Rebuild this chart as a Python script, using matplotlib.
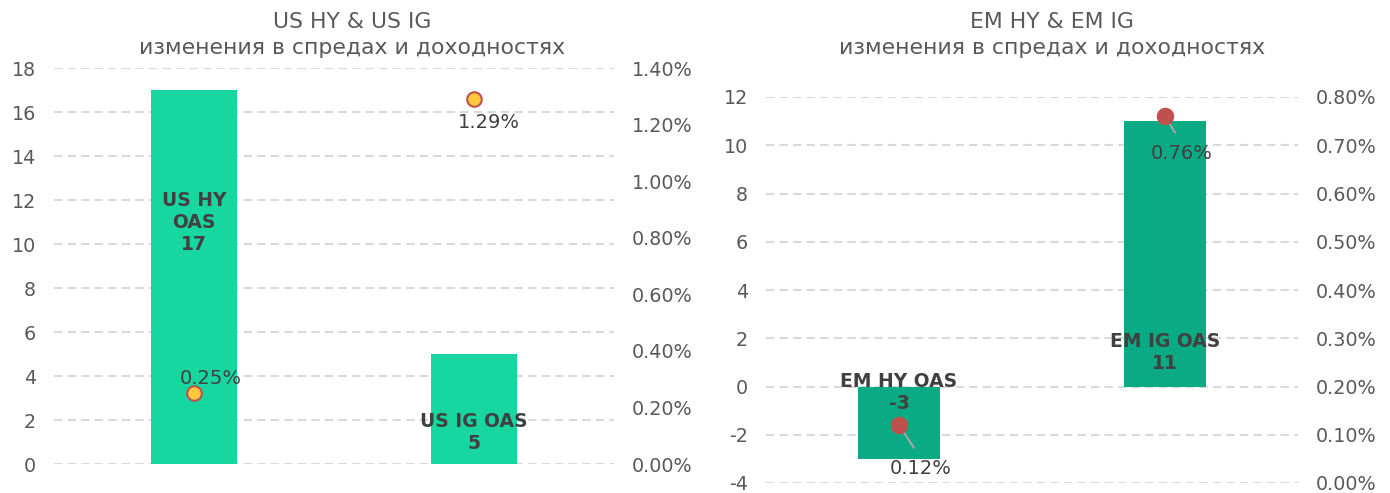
import matplotlib.pyplot as plt
from matplotlib.ticker import PercentFormatter

# данные
us_cats = ['US HY\nOAS', 'US IG OAS']
us_spread = [17, 5]
us_yield = [0.25, 1.29]

em_cats = ['EM HY OAS', 'EM IG OAS']
em_spread = [-3, 11]
em_yield = [0.12, 0.76]

W, H = 1390, 493
fig = plt.figure(figsize=(W / 100, H / 100), dpi=100)
plt.rcParams['font.family'] = ['DejaVu Sans']
plt.rcParams['axes.unicode_minus'] = False

txt = '#404040'
tick_c = '#595959'
grid_c = '#D9D9D9'


def px_axes(x0, x1, ytop, ybot):
    return fig.add_axes([x0 / W, (H - ybot) / H, (x1 - x0) / W, (ybot - ytop) / H])


def style(ax, ax2):
    for a in (ax, ax2):
        for s in a.spines.values():
            s.set_visible(False)
        a.tick_params(length=0, labelsize=13.8, labelcolor=tick_c, pad=13)
    ax.set_xticks([])
    ax.yaxis.grid(True, color=grid_c, lw=1.5, ls=(0, (4, 2.5)))
    ax.set_axisbelow(True)
    ax.set_xlim(-0.5, 1.5)


# ---- левый график ----
ax = px_axes(54, 614, 68, 464)
ax2 = ax.twinx()
x = range(len(us_cats))
ax.bar(x, us_spread, width=0.31, color='#17D69F', zorder=2)
ax.set_ylim(0, 18)
ax.set_yticks(range(0, 19, 2))
ax2.set_ylim(0, 1.4)
ax2.set_yticks([i * 0.2 for i in range(8)])
ax2.yaxis.set_major_formatter(PercentFormatter(decimals=2))
style(ax, ax2)
ax2.scatter(x, us_yield, s=110, color='#FFC83D', edgecolor='#C0504D', lw=1.5, zorder=7)

us_label_y = [11.0, 1.45]
for i, (c, v) in enumerate(zip(us_cats, us_spread)):
    ax.text(i, us_label_y[i], f'{c}\n{v}', ha='center', va='center',
            fontsize=13.5, fontweight='bold', color=txt, zorder=6)
us_off = [(17, 15), (15, -23)]
for i, v in enumerate(us_yield):
    ax2.annotate(f'{v:.2f}%', (i, v), xytext=us_off[i], textcoords='offset pixels',
                 ha='center', va='center', fontsize=14, color=txt, zorder=6)

fig.text(352 / W, 1 - 22 / H, 'US HY & US IG', ha='center', va='center', fontsize=15.8, color=tick_c)
fig.text(352 / W, 1 - 48 / H, 'изменения в спредах и доходностях', ha='center', va='center',
         fontsize=15.8, color=tick_c)

# ---- правый график ----
bx = px_axes(766, 1298, 97, 483)
bx2 = bx.twinx()
x = range(len(em_cats))
bx.bar(x, em_spread, width=0.31, color='#0AAA84', zorder=2)
bx.set_ylim(-4, 12)
bx.set_yticks(range(-4, 13, 2))
bx2.set_ylim(0, 0.8)
bx2.set_yticks([i * 0.1 for i in range(9)])
bx2.yaxis.set_major_formatter(PercentFormatter(decimals=2))
style(bx, bx2)
bx2.scatter(x, em_yield, s=135, color='#C0504D', zorder=7)

em_label_y = [-0.25, 1.4]
for i, (c, v) in enumerate(zip(em_cats, em_spread)):
    bx.text(i, em_label_y[i], f'{c}\n{v}', ha='center', va='center',
            fontsize=13.5, fontweight='bold', color=txt, zorder=6)
em_off = [(22, -43), (17, -37)]
for i, v in enumerate(em_yield):
    bx2.annotate(f'{v:.2f}%', (i, v), xytext=em_off[i], textcoords='offset pixels',
                 ha='center', va='center', fontsize=14, color=txt, zorder=6,
                 arrowprops=dict(arrowstyle='-', color='#A6A6A6', lw=1.5,
                                 relpos=(0.5, 1.0), shrinkA=7, shrinkB=0))

fig.text(1052 / W, 1 - 22 / H, 'EM HY & EM IG', ha='center', va='center', fontsize=15.8, color=tick_c)
fig.text(1052 / W, 1 - 48 / H, 'изменения в спредах и доходностях', ha='center', va='center',
         fontsize=15.8, color=tick_c)

fig.savefig('out.png', dpi=100, facecolor='white')
